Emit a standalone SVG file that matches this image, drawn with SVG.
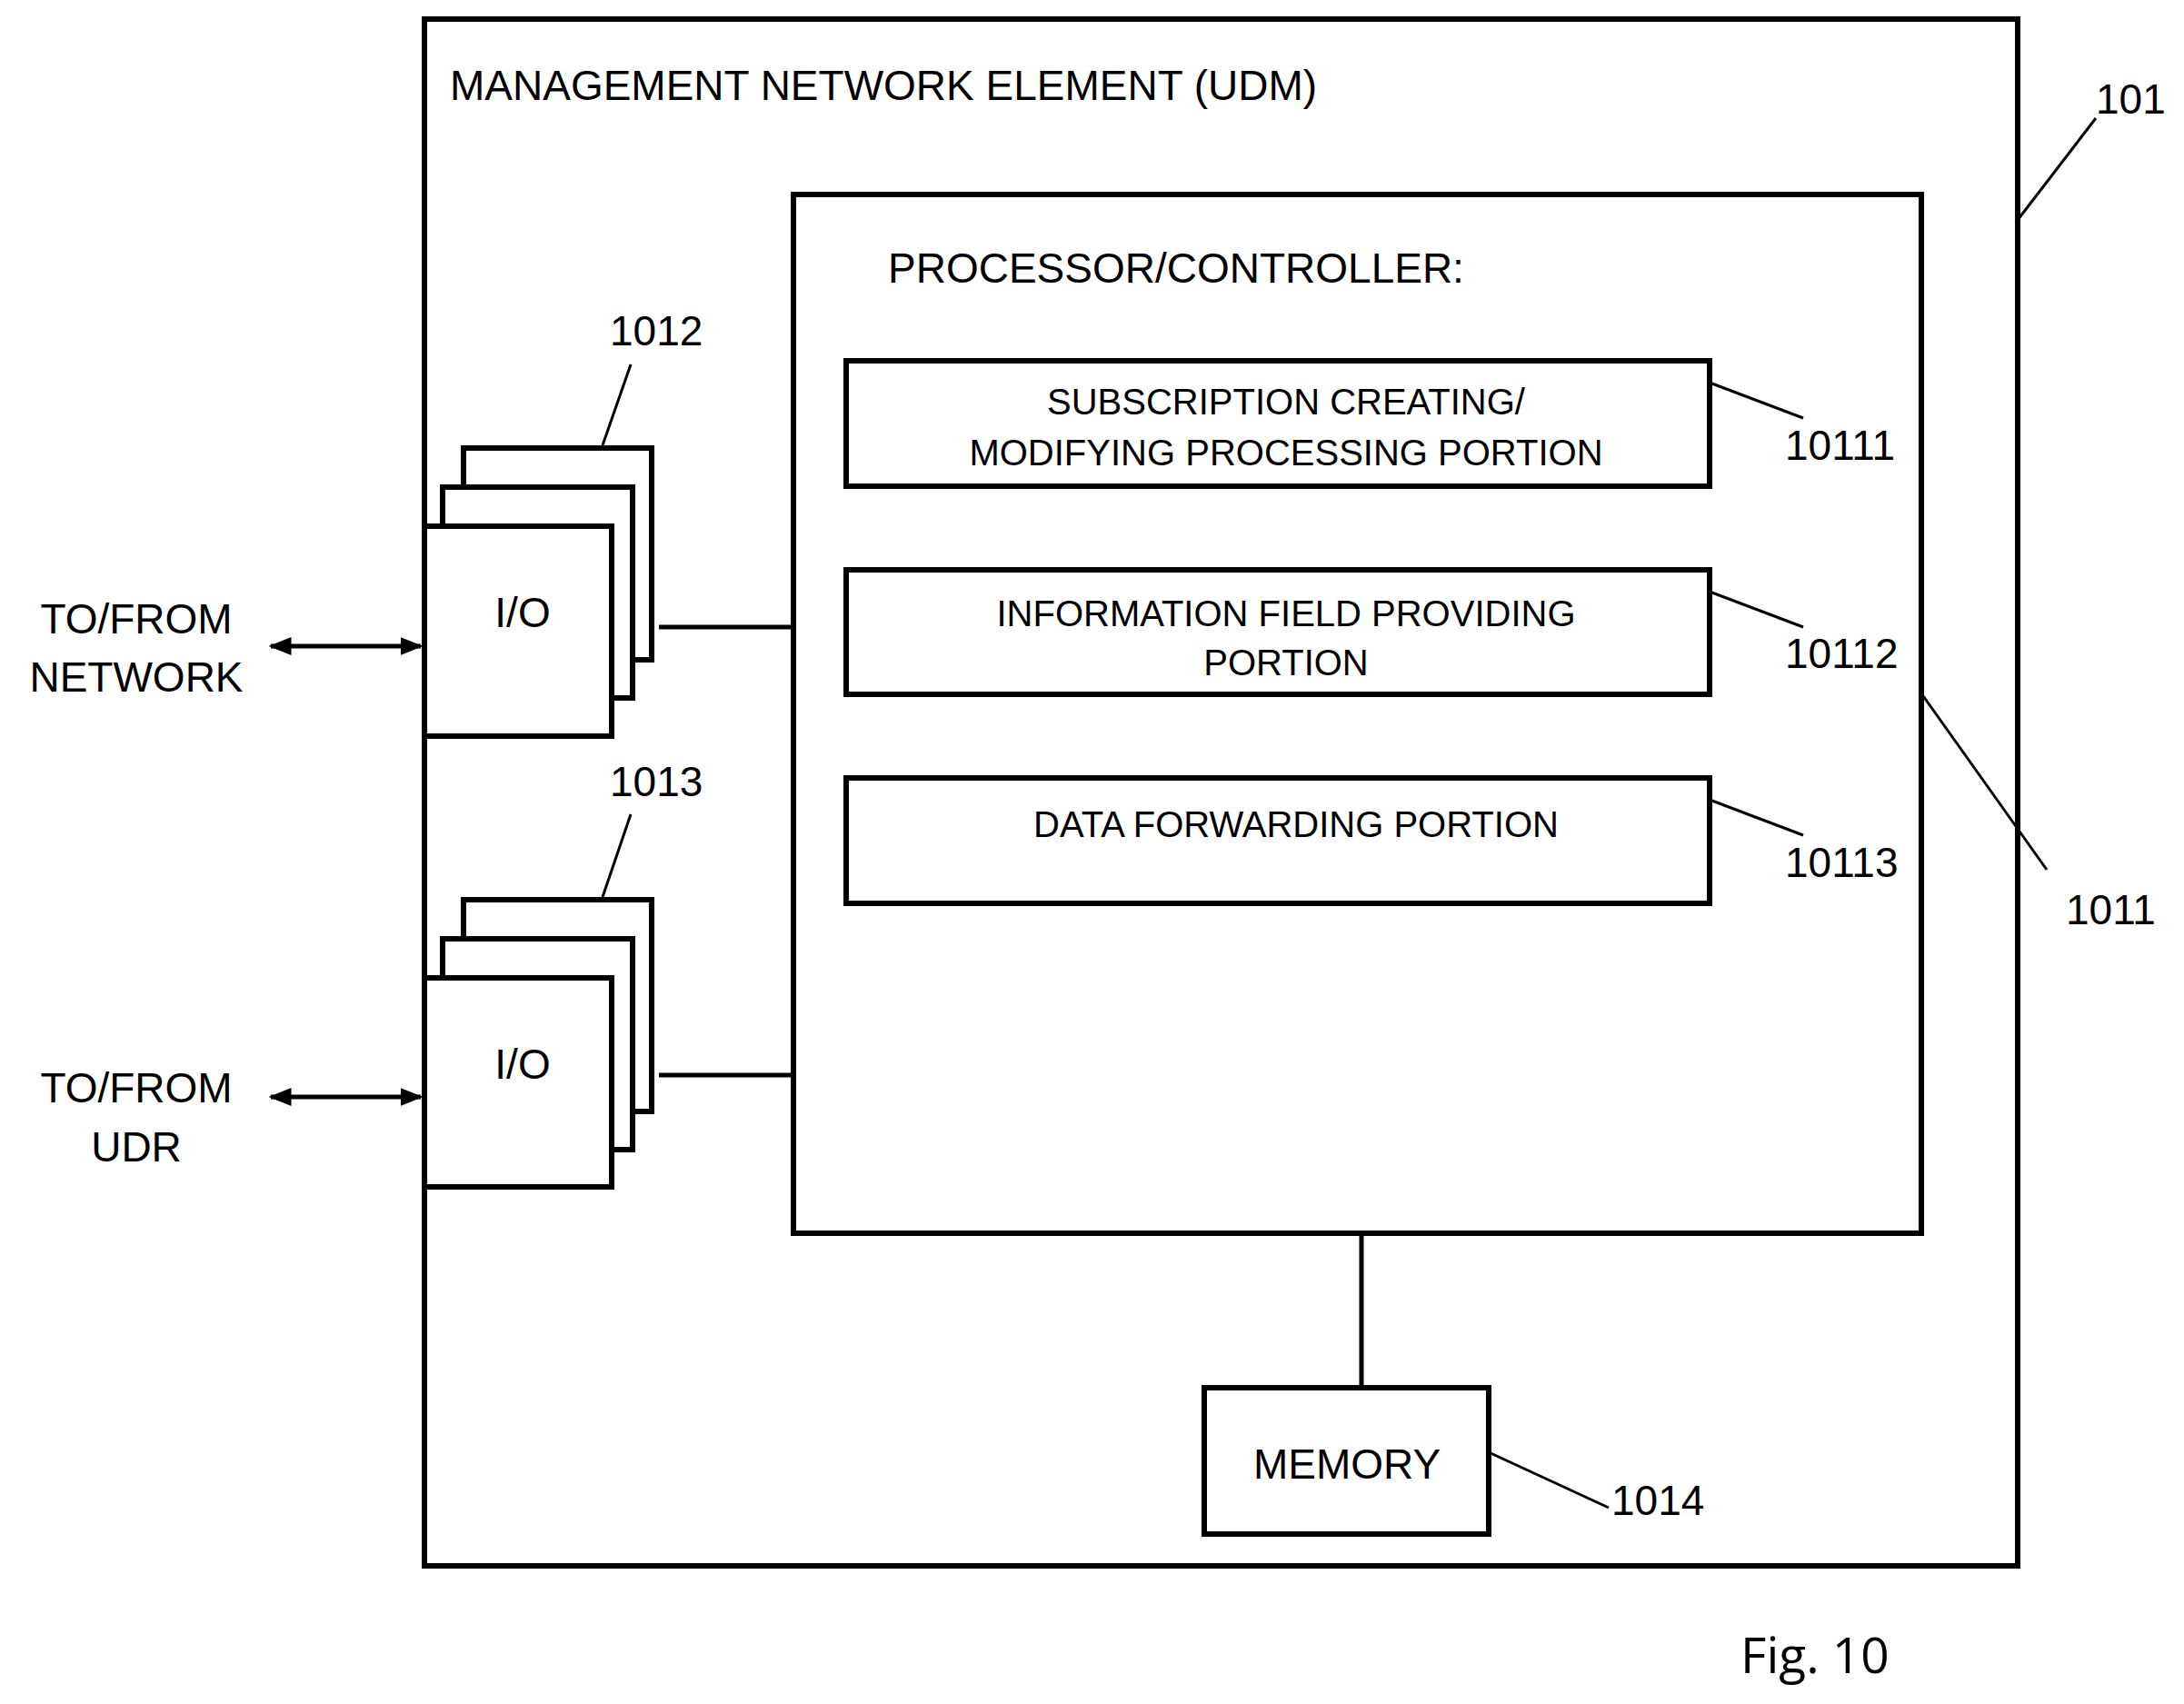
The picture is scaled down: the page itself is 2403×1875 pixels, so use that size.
<svg xmlns="http://www.w3.org/2000/svg" width="2403" height="1875" viewBox="0 0 2403 1875">
<style>
.b{fill:#fff;stroke:#000;stroke-width:6}
.l{stroke:#000;stroke-width:3;fill:none}
.c{stroke:#000;stroke-width:5;fill:none}
text{font-family:"Liberation Sans",Arial,sans-serif;fill:#000}
.t{font-size:46px}
.s{font-size:40px}
.m{text-anchor:middle}
</style>
<defs>
<marker id="a" viewBox="0 0 10 10" refX="9" refY="5" markerWidth="5" markerHeight="5" orient="auto-start-reverse"><path d="M0,1L10,5L0,9z" fill="#000"/></marker>
</defs>
<rect width="2403" height="1875" fill="#fff"/>
<g id="udm"><rect class="b" x="467" y="21" width="1753" height="1702"/>
<text class="t" x="495" y="110">MANAGEMENT NETWORK ELEMENT (UDM)</text>
<line class="l" x1="2220" y1="242" x2="2306" y2="130"/><text class="t" x="2306" y="125">101</text></g>
<g id="proc"><rect class="b" x="873" y="214" width="1241" height="1143"/>
<text class="t" x="977" y="311">PROCESSOR/CONTROLLER:</text>
<line class="l" x1="2114" y1="763" x2="2252" y2="957"/><text class="t" x="2273" y="1017">1011</text></g>
<g id="p1"><rect class="b" x="931" y="397" width="950" height="138"/>
<text class="s m" x="1415" y="456">SUBSCRIPTION CREATING/</text><text class="s m" x="1415" y="512">MODIFYING PROCESSING PORTION</text>
<line class="l" x1="1881" y1="421" x2="1984" y2="460"/><text class="t" x="1964" y="506">10111</text></g>
<g id="p2"><rect class="b" x="931" y="627" width="950" height="137"/>
<text class="s m" x="1415" y="689">INFORMATION FIELD PROVIDING</text><text class="s m" x="1415" y="743">PORTION</text>
<line class="l" x1="1881" y1="651" x2="1984" y2="690"/><text class="t" x="1964" y="735">10112</text></g>
<g id="p3"><rect class="b" x="931" y="856" width="950" height="138"/>
<text class="s m" x="1426" y="921">DATA FORWARDING PORTION</text>
<line class="l" x1="1881" y1="880" x2="1984" y2="919"/><text class="t" x="1964" y="965">10113</text></g>
<g id="io1"><rect class="b" x="510" y="493" width="207" height="233"/><rect class="b" x="487" y="536" width="209" height="232"/><rect class="b" x="467" y="579" width="206" height="231"/>
<text class="t m" x="575" y="690">I/O</text>
<line class="l" x1="663" y1="490" x2="694" y2="401"/><text class="t" x="671" y="380">1012</text></g>
<g id="io2"><rect class="b" x="510" y="990" width="207" height="233"/><rect class="b" x="487" y="1033" width="209" height="232"/><rect class="b" x="467" y="1076" width="206" height="230"/>
<text class="t m" x="575" y="1187">I/O</text>
<line class="l" x1="663" y1="987" x2="694" y2="896"/><text class="t" x="671" y="876">1013</text></g>
<g id="mem"><rect class="b" x="1325" y="1527" width="313" height="161"/>
<text class="t m" x="1482" y="1627">MEMORY</text>
<line class="l" x1="1638" y1="1598" x2="1770" y2="1659"/><text class="t" x="1773" y="1667">1014</text></g>
<g id="ext"><text class="t m" x="150" y="697">TO/FROM</text><text class="t m" x="150" y="761">NETWORK</text>
<text class="t m" x="150" y="1213">TO/FROM</text><text class="t m" x="150" y="1278">UDR</text>
<text x="1915" y="1841" style="font-size:55px;font-family:'Open Sans',sans-serif">Fig. 10</text></g>
<g id="connectors">
<line class="c" x1="725" y1="690" x2="873" y2="690"/>
<line class="c" x1="725" y1="1183" x2="873" y2="1183"/>
<line class="c" x1="1498" y1="1357" x2="1498" y2="1527"/>
<line class="c" x1="298" y1="711" x2="463" y2="711" marker-start="url(#a)" marker-end="url(#a)"/>
<line class="c" x1="298" y1="1207" x2="463" y2="1207" marker-start="url(#a)" marker-end="url(#a)"/>
</g>
</svg>
